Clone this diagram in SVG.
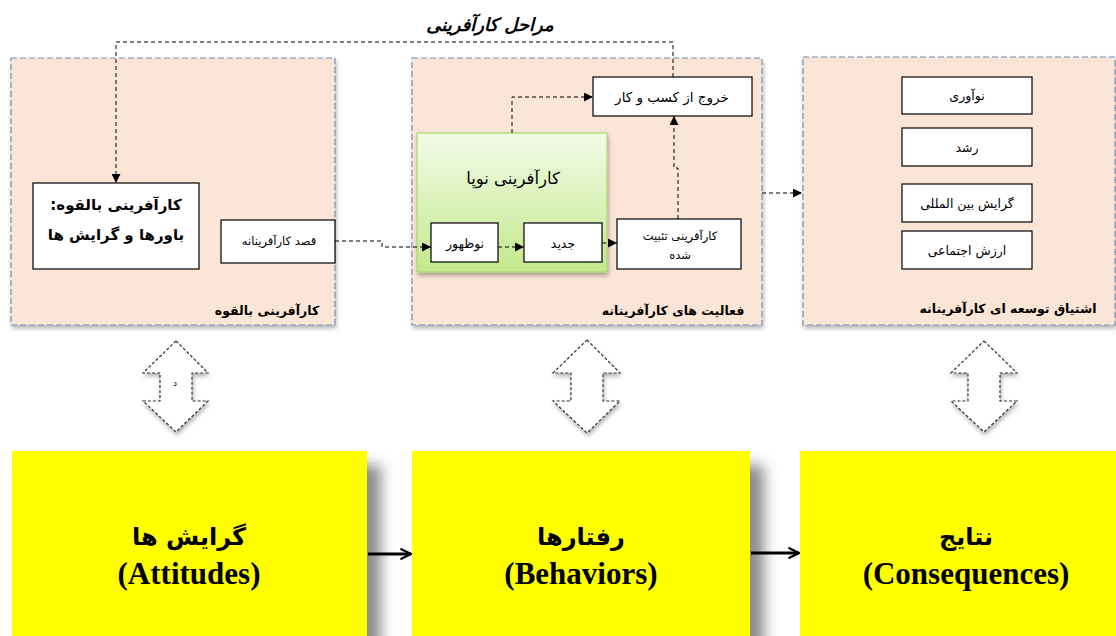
<svg xmlns="http://www.w3.org/2000/svg" width="1116" height="636" viewBox="0 0 1116 636">
<defs>
<linearGradient id="green" x1="0" y1="0" x2="0" y2="1">
<stop offset="0" stop-color="#f3fbe8"/>
<stop offset="1" stop-color="#c3e88c"/>
</linearGradient>
<filter id="sh" x="-10%" y="-10%" width="130%" height="130%">
<feGaussianBlur in="SourceAlpha" stdDeviation="2"/>
<feOffset dx="1" dy="3" result="b"/>
<feFlood flood-color="#000" flood-opacity="0.3"/>
<feComposite in2="b" operator="in"/>
<feMerge><feMergeNode/><feMergeNode in="SourceGraphic"/></feMerge>
</filter>
<filter id="ysh" x="-10%" y="-10%" width="140%" height="130%">
<feGaussianBlur in="SourceAlpha" stdDeviation="7"/>
<feOffset dx="14" dy="14" result="b"/>
<feFlood flood-color="#000" flood-opacity="0.45"/>
<feComposite in2="b" operator="in"/>
<feMerge><feMergeNode/><feMergeNode in="SourceGraphic"/></feMerge>
</filter>
<marker id="ah" viewBox="0 0 10 10" refX="10" refY="5" markerWidth="9" markerHeight="9" markerUnits="userSpaceOnUse" orient="auto">
<path d="M0,0 L10,5 L0,10 Z" fill="#000"/>
</marker>
<marker id="bh" viewBox="0 0 10 10" refX="9" refY="5" markerWidth="12" markerHeight="12" markerUnits="userSpaceOnUse" orient="auto">
<path d="M1,1 L9,5 L1,9" fill="none" stroke="#000" stroke-width="2" stroke-linecap="round"/>
</marker>
</defs>
<style>
.panel{fill:#fbe5d6;stroke:#6e8fbd;stroke-width:1.2;stroke-dasharray:6 3;}
.box{fill:#fff;stroke:#000;stroke-width:1.2;}
.fa{font-family:"DejaVu Sans","Noto Sans",sans-serif;text-anchor:middle;fill:#000;}
.lbl{font-size:12.5px;font-weight:bold;}
.sm{font-size:12.5px;}
.dash{fill:none;stroke:#000;stroke-width:1;stroke-dasharray:4 3;}
.yel{fill:#ffff00;}
.en{font-family:"Liberation Serif","Times New Roman",serif;font-weight:bold;font-size:31px;text-anchor:middle;fill:#000;}
.big{font-size:24px;font-weight:bold;}
.dbl{fill:#fff;stroke:#333;stroke-width:1.2;stroke-dasharray:3 2;}
</style>
<rect width="1116" height="636" fill="#fff"/>

<text class="fa" x="490" y="31" font-size="18" font-weight="bold" font-style="italic">مراحل کارآفرینی</text>

<g id="panel1">
<rect class="panel" x="11" y="58" width="324" height="267" filter="url(#sh)"/>
<text class="fa lbl" x="267" y="315">کارآفرینی بالقوه</text>
</g>
<g id="potential">
<rect class="box" x="33" y="183" width="166" height="86"/>
<text class="fa" x="116" y="210" font-size="15" font-weight="bold">کارآفرینی بالقوه:&#x200F;</text>
<text class="fa" x="116" y="240" font-size="15" font-weight="bold">باورها و گرایش ها</text>
</g>
<g id="intent">
<rect class="box" x="221" y="220" width="114" height="43"/>
<text class="fa" x="279" y="245" font-size="11.5" fill="#222">قصد کارآفرینانه</text>
</g>

<g id="panel2">
<rect class="panel" x="412" y="58" width="350" height="267" filter="url(#sh)"/>
<text class="fa lbl" x="673" y="315">فعالیت های کارآفرینانه</text>
</g>
<g id="nascent">
<rect x="417" y="133" width="190" height="139" fill="url(#green)" stroke="#a8d774" stroke-width="1.2" filter="url(#sh)"/>
<text class="fa" x="513" y="184" font-size="16.5">کارآفرینی نوپا</text>
</g>
<g id="emerging">
<rect class="box" x="431" y="223" width="67" height="39"/>
<text class="fa sm" x="465" y="248">نوظهور</text>
</g>
<g id="new">
<rect class="box" x="524" y="223" width="78" height="39"/>
<text class="fa sm" x="563" y="248">جدید</text>
</g>
<g id="established">
<rect class="box" x="617" y="219" width="124" height="50"/>
<text class="fa" x="680" y="240" font-size="11.5" fill="#333">کارآفرینی تثبیت</text>
<text class="fa" x="680" y="259" font-size="11.5" fill="#333">شده</text>
</g>
<g id="exit">
<rect class="box" x="593" y="77" width="159" height="39"/>
<text class="fa" x="672" y="102" font-size="13.5">خروج از کسب و کار</text>
</g>

<g id="panel3">
<rect class="panel" x="803" y="57" width="312" height="268" filter="url(#sh)"/>
<text class="fa lbl" x="1008" y="313">اشتیاق توسعه ای کارآفرینانه</text>
</g>
<g id="innovation">
<rect class="box" x="902" y="77" width="130" height="37"/>
<text class="fa sm" x="967" y="100">نوآوری</text>
</g>
<g id="growth">
<rect class="box" x="902" y="128" width="130" height="38"/>
<text class="fa sm" x="967" y="152">رشد</text>
</g>
<g id="international">
<rect class="box" x="902" y="184" width="130" height="38"/>
<text class="fa sm" x="967" y="208">گرایش بین المللی</text>
</g>
<g id="social">
<rect class="box" x="902" y="231" width="130" height="38"/>
<text class="fa sm" x="967" y="255">ارزش اجتماعی</text>
</g>

<g id="connectors">
<path class="dash" d="M673,77 V42 H116 V183" marker-end="url(#ah)"/>
<path class="dash" d="M335,241 H382 V247 H431" marker-end="url(#ah)"/>
<path class="dash" d="M498,247 H524" marker-end="url(#ah)"/>
<path class="dash" d="M602,243 H617" marker-end="url(#ah)"/>
<path class="dash" d="M678,219 V168 H674 V116" marker-end="url(#ah)"/>
<path class="dash" d="M512,133 V97 H593" marker-end="url(#ah)"/>
<path class="dash" d="M762,193 H802" marker-end="url(#ah)"/>
</g>

<g id="dbl1">
<path class="dbl" filter="url(#sh)" d="M176,341 L208,373 L192,373 L192,401 L208,401 L176,432 L143,401 L160,401 L160,373 L143,373 Z"/>
<text class="fa" x="175" y="386" font-size="9" fill="#ddd">د</text>
</g>
<g id="dbl2">
<path class="dbl" filter="url(#sh)" d="M587,340 L620,373 L603,373 L603,401 L620,401 L587,433 L553,401 L571,401 L571,373 L553,373 Z"/>
</g>
<g id="dbl3">
<path class="dbl" filter="url(#sh)" d="M984,341 L1017,373 L1000,373 L1000,401 L1017,401 L984,432 L951,401 L968,401 L968,373 L951,373 Z"/>
</g>

<g id="attitudes">
<rect class="yel" x="12" y="451" width="355" height="200" filter="url(#ysh)"/>
<text class="fa big" x="189" y="545">گرایش ها</text>
<text class="en" x="189" y="584">(Attitudes)</text>
</g>
<g id="behaviors">
<rect class="yel" x="412" y="451" width="338" height="200" filter="url(#ysh)"/>
<text class="fa big" x="581" y="545">رفتارها</text>
<text class="en" x="581" y="584">(Behaviors)</text>
</g>
<g id="consequences">
<rect class="yel" x="800" y="451" width="330" height="200"/>
<text class="fa big" x="966" y="545">نتایج</text>
<text class="en" x="966" y="584">(Consequences)</text>
</g>
<g id="main-connectors">
<path d="M368,554 H411" stroke="#000" stroke-width="3" fill="none" marker-end="url(#bh)"/>
<path d="M751,553 H799" stroke="#000" stroke-width="3" fill="none" marker-end="url(#bh)"/>
</g>
</svg>
